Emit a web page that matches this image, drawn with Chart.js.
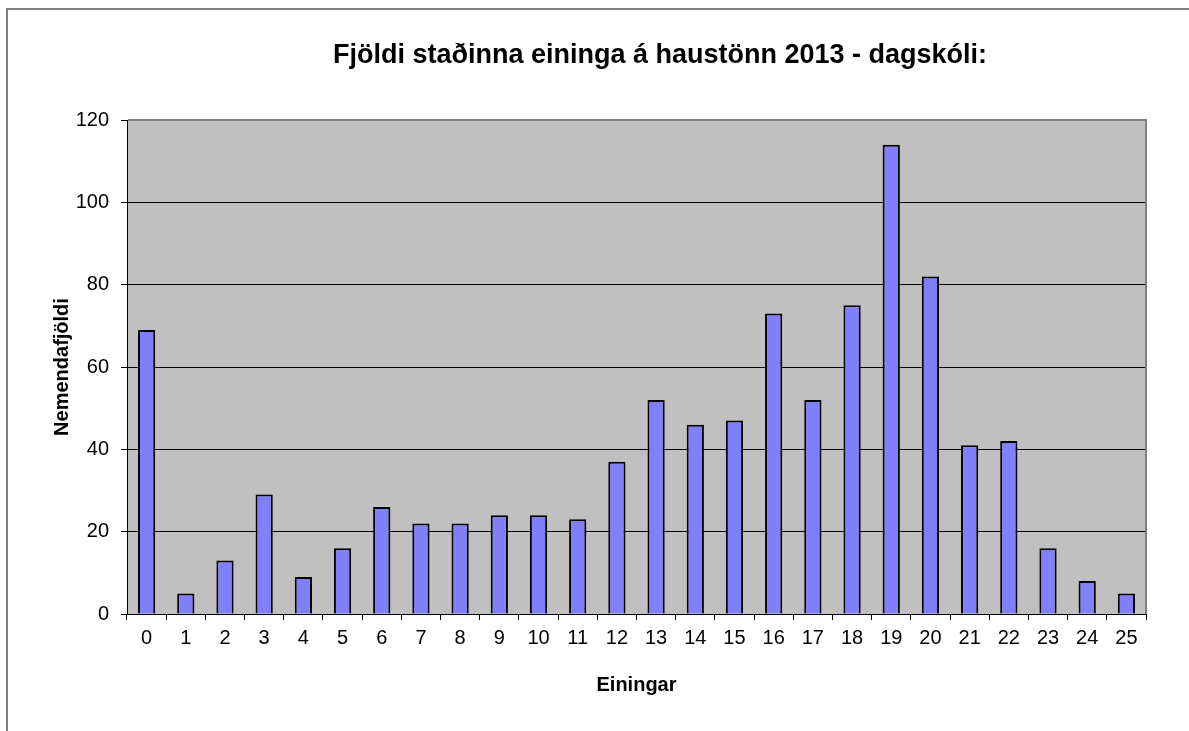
<!DOCTYPE html>
<html>
<head>
<meta charset="utf-8">
<script src="https://cdn.jsdelivr.net/npm/chart.js@4"></script>
<style>
  html, body { margin: 0; padding: 0; background: #fff; }
  #frame { position: absolute; left: 6px; top: 8px; width: 1200px; height: 740px;
           border-left: 2px solid #808080; border-top: 2px solid #808080; }
  #wrap { position: absolute; left: 0; top: 0; width: 1189px; height: 731px; }
</style>
</head>
<body>
<div id="frame"></div>
<div id="wrap"><canvas id="chart" width="1189" height="731"></canvas></div>
<script>
// --- DATA ---
const chartTitle = 'Fjöldi staðinna eininga á haustönn 2013 - dagskóli:';
const einingar = ['0','1','2','3','4','5','6','7','8','9','10','11','12','13','14','15','16','17','18','19','20','21','22','23','24','25'];
const nemendur = [69, 5, 13, 29, 9, 16, 26, 22, 22, 24, 24, 23, 37, 52, 46, 47, 73, 52, 75, 114, 82, 41, 42, 16, 8, 5];
const yTicks = { min: 0, max: 120, step: 20 };

const FONT = '"Liberation Sans", Arial, sans-serif';

// gray plot background + gray top/right frame, title text
const plotArea = {
    id: 'plotArea',
    beforeDraw(chart) {
        const { ctx, chartArea: a } = chart;
        ctx.save();
        ctx.fillStyle = '#C0C0C0';
        ctx.fillRect(a.left, a.top, a.right - a.left, a.bottom - a.top);
        ctx.restore();
    },
    afterDraw(chart) {
        const { ctx, chartArea: a } = chart;
        ctx.save();
        ctx.strokeStyle = '#808080';
        ctx.lineWidth = 2;
        ctx.beginPath();
        ctx.moveTo(a.left + 1, a.top);
        ctx.lineTo(a.right, a.top);
        ctx.lineTo(a.right, a.bottom);
        ctx.stroke();
        // chart title
        ctx.fillStyle = '#000';
        ctx.font = 'bold 27px ' + FONT;
        ctx.textAlign = 'center';
        ctx.textBaseline = 'middle';
        ctx.fillText(chartTitle, 660, 56);
        ctx.restore();
    }
};

new Chart(document.getElementById('chart'), {
    type: 'bar',
    data: {
        labels: einingar,
        datasets: [{
            label: 'Nemendafjöldi',
            data: nemendur,
            backgroundColor: '#8080FF',
            borderColor: '#000000',
            borderWidth: 2,
            barPercentage: 0.44,
            categoryPercentage: 1.0
        }]
    },
    options: {
        responsive: false,
        animation: false,
        layout: { padding: { left: 27, right: 43, top: 120, bottom: 17 } },
        plugins: {
            legend: { display: false },
            tooltip: { enabled: false }
        },
        scales: {
            x: {
                grid: { offset: true, drawOnChartArea: false, drawTicks: true, tickLength: 6, color: '#000' },
                border: { color: '#000', width: 1 },
                ticks: { color: '#000', font: { family: FONT, size: 20 }, padding: 6, maxRotation: 0 },
                title: { display: true, text: 'Einingar', color: '#000', font: { family: FONT, size: 20, weight: 'bold' }, padding: { top: 0, bottom: 17 } },
                afterFit(scale) { scale.height = 100; }
            },
            y: {
                min: yTicks.min,
                max: yTicks.max,
                grid: { color: '#000', lineWidth: 1, tickLength: 6 },
                border: { color: '#000', width: 1 },
                ticks: { stepSize: yTicks.step, color: '#000', font: { family: FONT, size: 20 }, padding: 12 },
                title: { display: true, text: 'Nemendafjöldi', color: '#000', font: { family: FONT, size: 20, weight: 'bold' }, padding: { top: 23, bottom: 0 } },
                afterFit(scale) { scale.width = 100; }
            }
        }
    },
    plugins: [plotArea]
});
</script>
</body>
</html>
